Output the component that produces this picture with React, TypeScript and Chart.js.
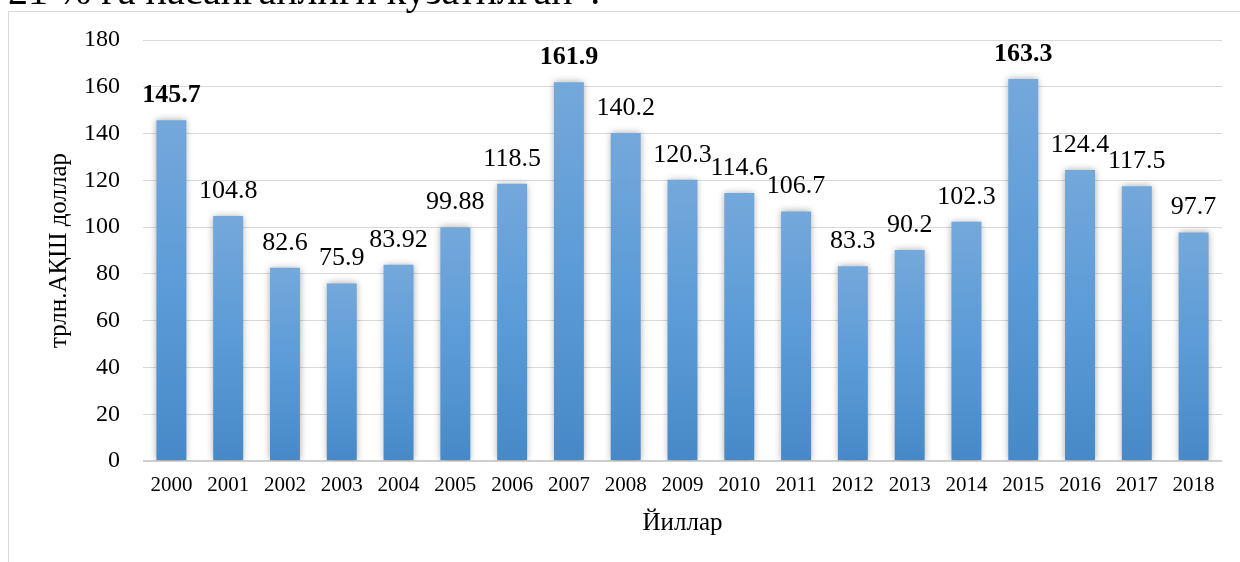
import React, { useEffect, useRef } from "react";
import { Chart, registerables } from "chart.js";

Chart.register(...registerables);

const years = ["2000","2001","2002","2003","2004","2005","2006","2007","2008","2009","2010","2011","2012","2013","2014","2015","2016","2017","2018"];
const values = [145.7,104.8,82.6,75.9,83.92,99.88,118.5,161.9,140.2,120.3,114.6,106.7,83.3,90.2,102.3,163.3,124.4,117.5,97.7];
const labelTexts = ["145.7","104.8","82.6","75.9","83.92","99.88","118.5","161.9","140.2","120.3","114.6","106.7","83.3","90.2","102.3","163.3","124.4","117.5","97.7"];
const boldLabels = [true,false,false,false,false,false,false,true,false,false,false,false,false,false,false,true,false,false,false];
const yTitle = "трлн.АҚШ доллар";
const xTitle = "Йиллар";
const topText = "21 % га пасайганлиги кузатилган”.";

const SERIF = "'Liberation Serif', 'DejaVu Serif', serif";

const shadowPlugin = {
  id: "barShadow",
  beforeDatasetDraw(chart: any) {
    const ctx = chart.ctx;
    ctx.save();
    ctx.shadowColor = "rgba(0,0,0,0.35)";
    ctx.shadowBlur = 7;
    ctx.shadowOffsetX = 0;
    ctx.shadowOffsetY = 0;
  },
  afterDatasetDraw(chart: any) {
    chart.ctx.restore();
  },
};

const labelPlugin = {
  id: "barLabels",
  afterDatasetsDraw(chart: any) {
    const ctx = chart.ctx;
    const meta = chart.getDatasetMeta(0);
    ctx.save();
    ctx.fillStyle = "#000";
    ctx.textAlign = "center";
    ctx.textBaseline = "alphabetic";
    meta.data.forEach((bar: any, i: number) => {
      ctx.font = `${boldLabels[i] ? "bold " : ""}26px ${SERIF}`;
      ctx.fillText(labelTexts[i], bar.x, bar.y - 18);
    });
    ctx.restore();
  },
};

export default function App() {
  const canvasRef = useRef<HTMLCanvasElement | null>(null);

  useEffect(() => {
    document.body.style.overflow = "hidden";
    const canvas = canvasRef.current!;
    const chart = new Chart(canvas, {
      type: "bar",
      data: {
        labels: years,
        datasets: [
          {
            data: values,
            barPercentage: 0.527,
            categoryPercentage: 1,
            backgroundColor: (c: any) => {
              const ch = c.chart;
              const ys = ch.scales?.y;
              if (!ys || c.parsed == null || c.parsed.y == null) return "#5b9bd5";
              const top = ys.getPixelForValue(c.parsed.y);
              const bottom = ys.getPixelForValue(0);
              if (!isFinite(top) || !isFinite(bottom) || top === bottom) return "#5b9bd5";
              const g = ch.ctx.createLinearGradient(0, top, 0, bottom);
              g.addColorStop(0, "#74a8db");
              g.addColorStop(0.5, "#5b9bd7");
              g.addColorStop(1, "#4789c8");
              return g;
            },
          },
        ],
      },
      options: {
        animation: false,
        responsive: false,
        maintainAspectRatio: false,
        layout: { padding: { left: 0, top: 40, right: 18, bottom: 0 } },
        plugins: { legend: { display: false }, tooltip: { enabled: false }, title: { display: false } },
        scales: {
          x: {
            grid: { display: false, drawTicks: false },
            border: { display: false },
            ticks: { color: "#000", font: { family: SERIF, size: 21 }, padding: 12, maxRotation: 0, autoSkip: false },
            title: { display: true, text: xTitle, color: "#000", font: { family: SERIF, size: 25 }, padding: { top: 0, bottom: 24 } },
            afterFit: (s: any) => { s.height = 101; },
          },
          y: {
            min: 0,
            max: 180,
            ticks: { stepSize: 20, color: "#000", font: { family: SERIF, size: 24 }, padding: 23 },
            grid: {
              drawTicks: false,
              color: (c: any) => (c.tick && c.tick.value === 0 ? "#cfcfcf" : "#d9d9d9"),
              lineWidth: (c: any) => (c.tick && c.tick.value === 0 ? 2 : 1),
            },
            border: { display: false },
            title: { display: true, text: yTitle, color: "#000", font: { family: SERIF, size: 25 }, padding: { top: 44, bottom: 0 } },
            afterFit: (s: any) => { s.width = 143; },
          },
        },
      },
      plugins: [shadowPlugin, labelPlugin],
    } as any);
    return () => chart.destroy();
  }, []);

  return (
    <div>
      <div
        style={{
          position: "fixed",
          left: 8,
          top: 11,
          width: 1400,
          height: 800,
          border: "1px solid #d9d9d9",
          boxSizing: "border-box",
        }}
      />
      <div
        style={{
          position: "fixed",
          left: 8,
          top: -29,
          fontFamily: SERIF,
          fontSize: 40,
          lineHeight: "40px",
          whiteSpace: "nowrap",
          color: "#000",
        }}
      >
        {topText}
      </div>
      <canvas
        ref={canvasRef}
        width={1240}
        height={562}
        style={{ position: "fixed", left: 0, top: 0, width: 1240, height: 562 }}
      />
    </div>
  );
}
